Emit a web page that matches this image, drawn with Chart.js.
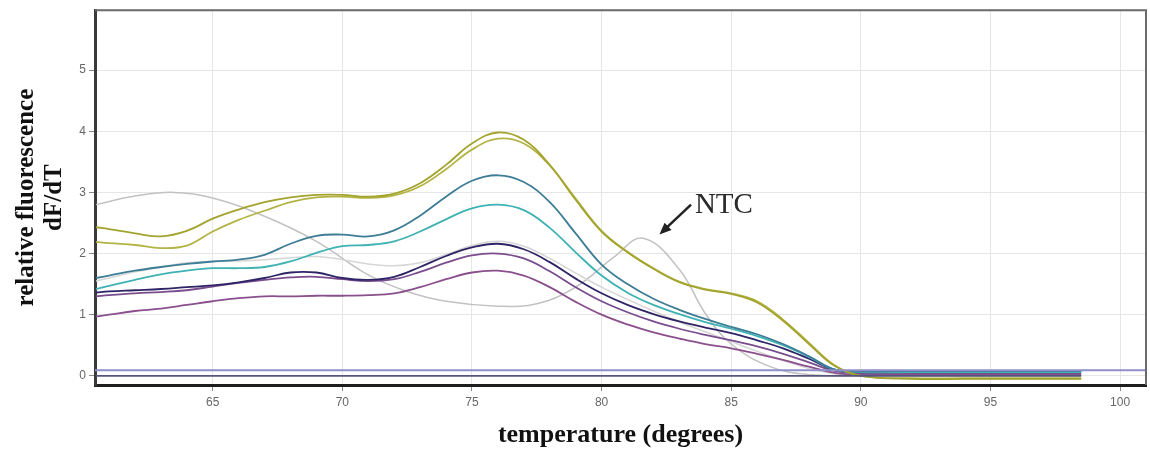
<!DOCTYPE html>
<html>
<head>
<meta charset="utf-8">
<script src="https://cdn.jsdelivr.net/npm/chart.js@4.4.1/dist/chart.umd.min.js"></script>
<style>
  html, body { margin: 0; padding: 0; background: #fff; }
  #chart { display: block; }
</style>
</head>
<body>
<canvas id="chart" width="1150" height="452"></canvas>
<script>
// melt curve samples (temperature in degrees, dF/dT)
const temps = [60.5, 61, 62, 63, 64, 65, 66, 67, 68, 69, 70, 71, 72, 73, 74, 75, 76, 77, 78, 79,
  80, 81, 82, 83, 84, 85, 86, 87, 88, 89, 90, 92, 94, 96, 98.5];

const oliveA = [2.43, 2.40, 2.33, 2.28, 2.37, 2.57, 2.72, 2.84, 2.92, 2.96, 2.96, 2.93, 2.98, 3.15, 3.45, 3.80, 3.98, 3.86, 3.45, 2.88,
  2.36, 2.02, 1.75, 1.53, 1.41, 1.34, 1.20, 0.90, 0.52, 0.16, 0.0, -0.05, -0.05, -0.05, -0.05];
const oliveB = [2.19, 2.17, 2.14, 2.09, 2.13, 2.36, 2.55, 2.70, 2.84, 2.92, 2.93, 2.91, 2.95, 3.10, 3.38, 3.70, 3.88, 3.80, 3.44, 2.90,
  2.37, 2.03, 1.76, 1.54, 1.42, 1.35, 1.22, 0.92, 0.54, 0.17, 0.0, -0.04, -0.04, -0.04, -0.04];
const teal = [1.60, 1.64, 1.72, 1.78, 1.83, 1.87, 1.90, 1.98, 2.16, 2.29, 2.31, 2.28, 2.38, 2.62, 2.93, 3.19, 3.28, 3.17, 2.84, 2.33,
  1.82, 1.50, 1.26, 1.08, 0.93, 0.80, 0.68, 0.52, 0.32, 0.10, 0.07, 0.08, 0.08, 0.08, 0.08];
const cyan = [1.42, 1.47, 1.57, 1.66, 1.72, 1.76, 1.76, 1.78, 1.87, 2.01, 2.12, 2.14, 2.20, 2.36, 2.56, 2.74, 2.80, 2.71, 2.42, 2.02,
  1.64, 1.36, 1.16, 1.01, 0.88, 0.77, 0.65, 0.50, 0.31, 0.10, 0.06, 0.06, 0.06, 0.06, 0.06];
const greyFaint = [1.55, 1.60, 1.70, 1.78, 1.85, 1.87, 1.88, 1.90, 1.93, 1.95, 1.90, 1.83, 1.80, 1.85, 1.98, 2.13, 2.20, 2.12, 1.92, 1.68,
  1.45, 1.25, 1.06, 0.88, 0.72, 0.56, 0.40, 0.25, 0.12, 0.03, 0.0, 0.0, 0.0, 0.0, 0.0];
const navy = [1.36, 1.38, 1.40, 1.42, 1.45, 1.48, 1.53, 1.60, 1.69, 1.69, 1.60, 1.57, 1.62, 1.78, 1.96, 2.10, 2.16, 2.07, 1.86, 1.59,
  1.35, 1.16, 1.01, 0.89, 0.79, 0.70, 0.58, 0.45, 0.28, 0.10, 0.07, 0.07, 0.07, 0.07, 0.07];
const violet = [1.30, 1.32, 1.35, 1.37, 1.40, 1.46, 1.52, 1.57, 1.61, 1.62, 1.58, 1.55, 1.58, 1.70, 1.85, 1.97, 2.00, 1.92, 1.71, 1.45,
  1.22, 1.04, 0.89, 0.77, 0.67, 0.58, 0.48, 0.36, 0.22, 0.08, 0.04, 0.04, 0.04, 0.04, 0.04];
const purple = [0.97, 1.00, 1.06, 1.10, 1.16, 1.22, 1.27, 1.30, 1.30, 1.31, 1.31, 1.32, 1.35, 1.45, 1.58, 1.69, 1.72, 1.64, 1.45, 1.21,
  1.00, 0.84, 0.71, 0.61, 0.52, 0.45, 0.36, 0.26, 0.15, 0.05, 0.02, 0.02, 0.02, 0.02, 0.02];

// no template control has its own sampling
const ntcTemps = [60.5, 62, 63.5, 65, 67, 69, 71, 72.5, 74, 76, 77.5, 79, 80.5, 81.6, 83, 84, 85, 86.5, 88, 90, 98.5];
const ntc = [2.80, 2.94, 3.00, 2.91, 2.61, 2.20, 1.65, 1.38, 1.22, 1.14, 1.18, 1.45, 1.95, 2.25, 1.74, 1.02, 0.52, 0.15, 0.02, 0.0, 0.0];

// negative samples and threshold
const negTemps = [60.5, 98.5];
const negative = [0.0, 0.0];
const thresholdTemps = [60.46, 101];
const threshold = [0.09, 0.09];

const xTicks = [65, 70, 75, 80, 85, 90, 95, 100];
const yTicks = [0, 1, 2, 3, 4, 5];

const ntcNote = { text: "NTC", x: 83.6, y: 2.67, arrowFrom: [83.45, 2.8], arrowTo: [82.23, 2.31] };

const pts = (xs, ys) => xs.map((x, i) => ({ x: x, y: ys[i] }));

const curve = (data, color, width) => ({
  data: data,
  borderColor: color,
  borderWidth: width || 1.8,
  pointRadius: 0,
  fill: false,
  tension: 0.4,
});

const framePlugin = {
  id: "frame",
  afterDraw(chart) {
    const { ctx, chartArea: a } = chart;
    ctx.save();
    ctx.strokeStyle = "#6a6a6a";
    ctx.lineWidth = 2;
    ctx.beginPath();
    ctx.moveTo(a.left, a.top);
    ctx.lineTo(a.right, a.top);
    ctx.lineTo(a.right, a.bottom);
    ctx.stroke();
    ctx.restore();
  },
};

const notePlugin = {
  id: "ntcNote",
  afterDatasetsDraw(chart) {
    const { ctx, scales } = chart;
    const px = (v) => scales.x.getPixelForValue(v);
    const py = (v) => scales.y.getPixelForValue(v);
    ctx.save();
    ctx.fillStyle = "#2a2a2a";
    ctx.font = "29px 'Liberation Serif'";
    ctx.textBaseline = "alphabetic";
    ctx.fillText(ntcNote.text, px(ntcNote.x), py(ntcNote.y));

    const x1 = px(ntcNote.arrowFrom[0]), y1 = py(ntcNote.arrowFrom[1]);
    const x2 = px(ntcNote.arrowTo[0]), y2 = py(ntcNote.arrowTo[1]);
    const ang = Math.atan2(y2 - y1, x2 - x1);
    ctx.strokeStyle = "#222";
    ctx.lineWidth = 2.5;
    ctx.beginPath();
    ctx.moveTo(x1, y1);
    ctx.lineTo(x2 - 6 * Math.cos(ang), y2 - 6 * Math.sin(ang));
    ctx.stroke();
    ctx.beginPath();
    ctx.moveTo(x2, y2);
    ctx.lineTo(x2 - 13 * Math.cos(ang - 0.4), y2 - 13 * Math.sin(ang - 0.4));
    ctx.lineTo(x2 - 13 * Math.cos(ang + 0.4), y2 - 13 * Math.sin(ang + 0.4));
    ctx.closePath();
    ctx.fillStyle = "#222";
    ctx.fill();
    ctx.restore();
  },
};

const gridOpts = { color: "#e6e6e6", lineWidth: 1, tickColor: "#8a8a8a", tickLength: 6 };
const tickFont = { family: "'Liberation Sans', Arial, sans-serif", size: 12 };

new Chart(document.getElementById("chart"), {
  type: "line",
  data: {
    datasets: [
      curve(pts(thresholdTemps, threshold), "#8f8fca", 2),
      curve(pts(negTemps, negative), "#55557e", 1.6),
      curve(pts(temps, oliveA), "#a3a32e"),
      curve(pts(temps, oliveB), "#b3b445"),
      curve(pts(temps, teal), "#3d7d95"),
      curve(pts(temps, cyan), "#3fb2b4"),
      curve(pts(temps, navy), "#2e2466"),
      curve(pts(temps, violet), "#7a4d8e"),
      curve(pts(temps, purple), "#8a4f8c"),
      curve(pts(temps, greyFaint), "#d6d6d6", 1.5),
      curve(pts(ntcTemps, ntc), "#c2c2c2", 1.5),
    ],
  },
  options: {
    responsive: false,
    animation: false,
    devicePixelRatio: 1,
    layout: { padding: { top: 10, right: 4, left: 0, bottom: 0 } },
    plugins: {
      legend: { display: false },
      tooltip: { enabled: false },
    },
    scales: {
      x: {
        type: "linear",
        min: 60.46,
        max: 101,
        afterBuildTicks: (s) => { s.ticks = xTicks.map((v) => ({ value: v })); },
        afterFit: (s) => { s.height = 67; },
        grid: gridOpts,
        border: { color: "#1e1e1e", width: 3 },
        ticks: { color: "#666", font: tickFont, padding: 4, maxRotation: 0 },
        title: {
          display: true,
          text: "temperature (degrees)",
          color: "#111",
          font: { family: "'Liberation Serif', serif", size: 26, weight: "bold" },
          padding: { top: 0, bottom: 1 },
        },
      },
      y: {
        type: "linear",
        min: -0.15,
        max: 5.98,
        afterBuildTicks: (s) => { s.ticks = yTicks.map((v) => ({ value: v })); },
        afterFit: (s) => { s.width = 95; },
        grid: gridOpts,
        border: { color: "#3a3a3a", width: 3 },
        ticks: { color: "#666", font: tickFont, padding: 3 },
        title: {
          display: true,
          text: ["relative fluorescence", "dF/dT"],
          color: "#111",
          font: { family: "'Liberation Serif', serif", size: 25, weight: "bold", lineHeight: 1.12 },
          padding: { top: 13, bottom: 0 },
        },
      },
    },
  },
  plugins: [framePlugin, notePlugin],
});
</script>
</body>
</html>
